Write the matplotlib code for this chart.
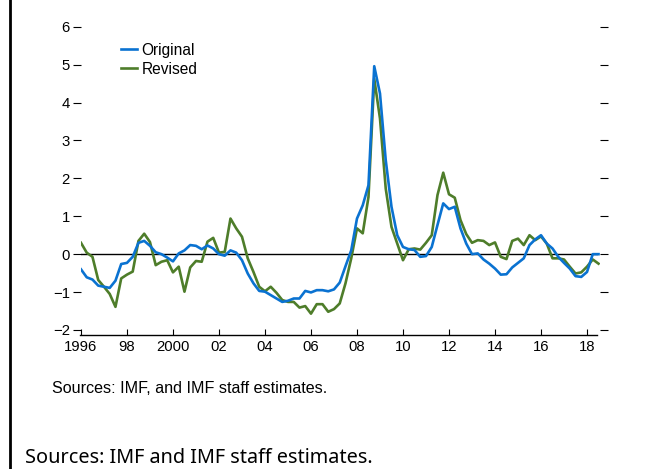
import numpy as np
import matplotlib
matplotlib.use("Agg")
import matplotlib.pyplot as plt
from matplotlib.lines import Line2D

plt.rcParams["font.family"] = ["Liberation Sans", "DejaVu Sans"]

# ---------------- data (quarterly, 1996Q1 - 2018Q3) ----------------
start_year = 1996
original = [
    -0.40, -0.61, -0.67, -0.83,   # 1996
    -0.86, -0.89, -0.70, -0.26,   # 1997
    -0.23, -0.07, 0.30, 0.35,     # 1998
    0.22, 0.05, 0.00, -0.09,      # 1999
    -0.19, 0.02, 0.10, 0.24,      # 2000
    0.22, 0.13, 0.23, 0.15,       # 2001
    0.00, -0.04, 0.10, 0.04,      # 2002
    -0.16, -0.51, -0.77, -0.97,   # 2003
    -0.99, -1.08, -1.17, -1.26,   # 2004
    -1.23, -1.17, -1.17, -0.97,   # 2005
    -1.01, -0.95, -0.95, -0.98,   # 2006
    -0.93, -0.75, -0.32, 0.10,    # 2007
    0.94, 1.29, 1.82, 4.96,       # 2008
    4.24, 2.48, 1.25, 0.50,       # 2009
    0.19, 0.13, 0.11, -0.07,      # 2010
    -0.05, 0.19, 0.77, 1.34,      # 2011
    1.19, 1.25, 0.68, 0.28,       # 2012
    0.00, 0.02, -0.14, -0.25,     # 2013
    -0.38, -0.54, -0.53, -0.35,   # 2014
    -0.23, -0.11, 0.24, 0.39,     # 2015
    0.50, 0.28, 0.15, -0.07,      # 2016
    -0.23, -0.38, -0.58, -0.60,   # 2017
    -0.47, 0.00, 0.00,            # 2018
]
revised = [
    0.30, 0.04, -0.07, -0.68,     # 1996
    -0.86, -1.05, -1.39, -0.64,   # 1997
    -0.54, -0.46, 0.35, 0.54,     # 1998
    0.32, -0.29, -0.20, -0.16,    # 1999
    -0.48, -0.33, -0.99, -0.35,   # 2000
    -0.18, -0.20, 0.33, 0.43,     # 2001
    0.04, 0.06, 0.94, 0.68,       # 2002
    0.46, -0.11, -0.47, -0.86,    # 2003
    -0.98, -0.86, -1.02, -1.21,   # 2004
    -1.26, -1.26, -1.41, -1.37,   # 2005
    -1.57, -1.32, -1.32, -1.52,   # 2006
    -1.45, -1.30, -0.77, -0.11,   # 2007
    0.68, 0.55, 1.51, 4.63,       # 2008
    3.58, 1.73, 0.72, 0.28,       # 2009
    -0.16, 0.13, 0.15, 0.12,      # 2010
    0.30, 0.50, 1.56, 2.15,       # 2011
    1.58, 1.49, 0.90, 0.53,       # 2012
    0.30, 0.37, 0.35, 0.24,       # 2013
    0.31, -0.07, -0.13, 0.35,     # 2014
    0.41, 0.24, 0.50, 0.37,       # 2015
    0.47, 0.28, -0.11, -0.11,     # 2016
    -0.14, -0.33, -0.51, -0.48,   # 2017
    -0.33, -0.14, -0.25,          # 2018
]
series_names = ["Original", "Revised"]
series_colors = ["#0A72D1", "#4E7D2A"]

xtick_years = [1996, 1998, 2000, 2002, 2004, 2006, 2008, 2010, 2012, 2014, 2016, 2018]
xtick_labels = ["1996", "98", "2000", "02", "04", "06", "08", "10", "12", "14", "16", "18"]
ytick_values = [-2, -1, 0, 1, 2, 3, 4, 5, 6]
ytick_labels = ["\u22122", "\u22121", "0", "1", "2", "3", "4", "5", "6"]

note_text = "Sources: IMF, and IMF staff estimates."
caption_text = "Sources: IMF and IMF staff estimates."

# ---------------- figure ----------------
W, H = 662, 469
fig = plt.figure(figsize=(W / 100, H / 100), dpi=100)

ax_left, ax_right, ax_top, ax_bottom = 80.5, 600.0, 26.8, 334.5
ax = fig.add_axes([ax_left / W, 1 - ax_bottom / H,
                   (ax_right - ax_left) / W, (ax_bottom - ax_top) / H])

x_min, x_max, x_axis_end = 1995.98, 2018.565, 2018.43
ax.set_xlim(x_min, x_max)
ax.set_ylim(-2.12, 6.0)

t_orig = start_year + np.arange(len(original)) / 4.0
t_rev = start_year + np.arange(len(revised)) / 4.0

ax.plot([x_min, x_axis_end], [0, 0], color="black", lw=1.0, zorder=1)
ax.plot(t_rev, revised, color=series_colors[1], lw=1.9, label=series_names[1], zorder=2)
ax.plot(t_orig, original, color=series_colors[0], lw=1.9, label=series_names[0], zorder=3)

for s in ["top", "right", "left"]:
    ax.spines[s].set_visible(False)
ax.spines["bottom"].set_bounds(x_min, x_axis_end)
ax.spines["bottom"].set_linewidth(1.0)

ax.set_xticks(xtick_years)
ax.set_xticklabels(xtick_labels)
ax.set_yticks(ytick_values)
ax.set_yticklabels(ytick_labels)
ax.tick_params(axis="x", direction="in", length=4, width=0.8, pad=4.0,
               labelsize=10.7, colors="black")
ax.tick_params(axis="y", direction="out", length=6, width=0.8, pad=1.6,
               labelsize=10.7, left=True, right=True, labelright=False)

handles = [Line2D([], [], color=series_colors[0], lw=1.9),
           Line2D([], [], color=series_colors[1], lw=1.9)]
ax.legend(handles, series_names, loc="upper left",
          bbox_to_anchor=(120.5 / W, 1 - 42.5 / H), bbox_transform=fig.transFigure,
          frameon=False, handlelength=1.05, handletextpad=0.3,
          labelspacing=0.28, borderpad=0, borderaxespad=0, fontsize=11.2)

fig.text(52 / W, 1 - 388 / H, note_text, va="center", ha="left", fontsize=11.6,
         family=["Liberation Sans", "DejaVu Sans"])
fig.text(25 / W, 1 - 458 / H, caption_text, va="center", ha="left", fontsize=14.3,
         family=["Noto Sans", "DejaVu Sans"])

fig.add_artist(Line2D([9.5 / W, 9.5 / W], [0, 1], transform=fig.transFigure,
                      color="black", lw=2.0))

fig.savefig("out.png", dpi=100)
